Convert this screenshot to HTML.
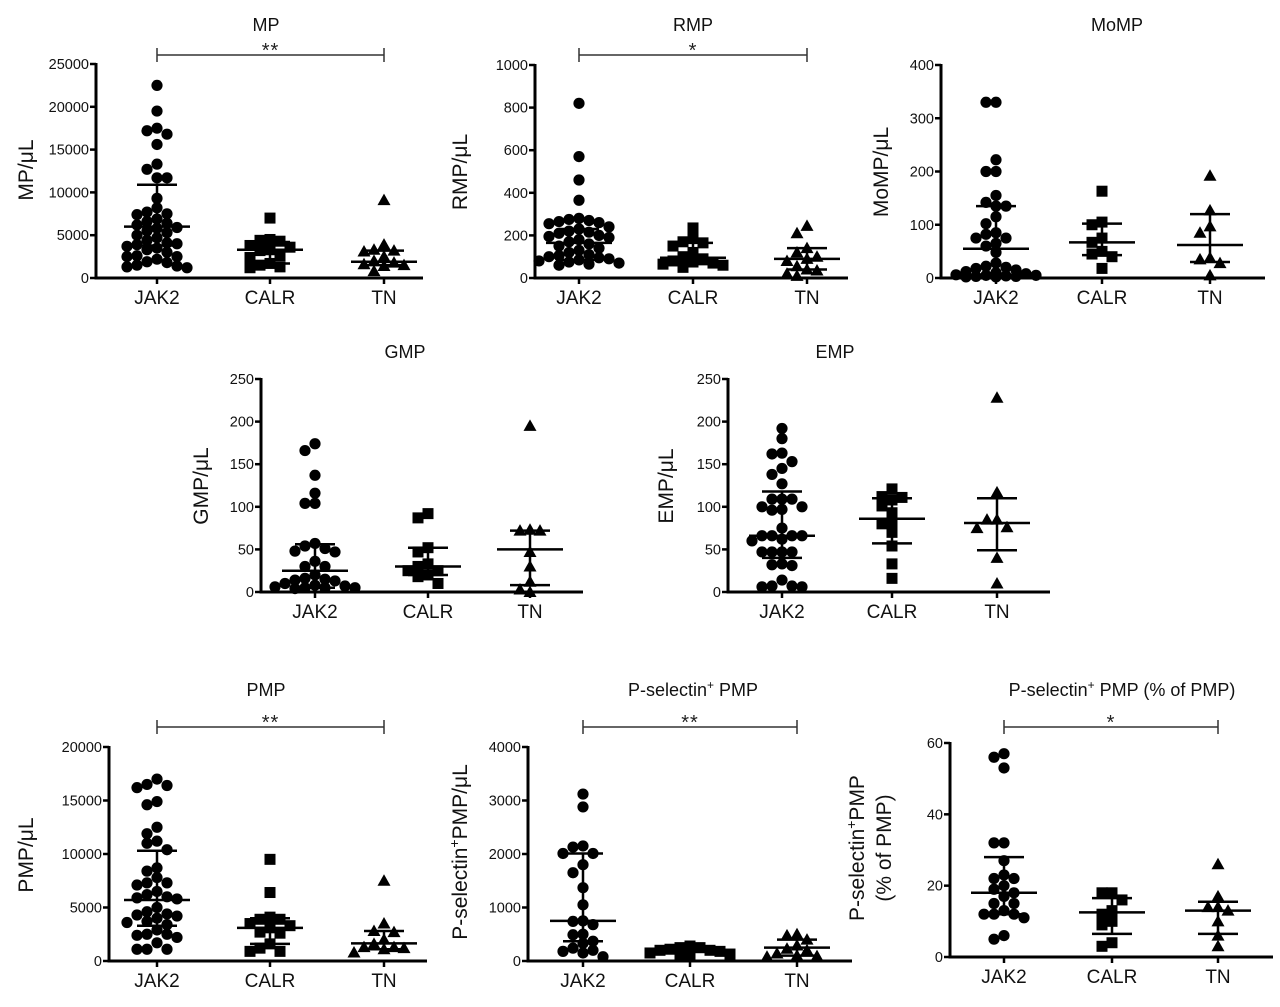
<!DOCTYPE html>
<html><head><meta charset="utf-8">
<style>
html,body{margin:0;padding:0;background:#fff;}
svg{display:block;font-family:"Liberation Sans",Arial,sans-serif;}
</style></head>
<body>
<svg id="fig" width="1280" height="1007" viewBox="0 0 1280 1007" xmlns="http://www.w3.org/2000/svg"></svg>
<script>
const groups = ["JAK2","CALR","TN"];

// MP
const mpTicks = [0,5000,10000,15000,20000,25000];
const mpJak2 = [22500,19500,17500,17200,16800,15600,13300,12700,11700,11700,9300,8200,7700,7500,7400,6900,6600,6400,6200,5900,5800,5500,5300,5000,4700,4400,4100,4000,3900,3700,3500,3300,3000,2600,2500,2500,2200,1900,1800,1500,1400,1300,1200];
const mpCalr = [7000,4500,4400,4300,3800,3600,3300,3200,2600,2400,1700,1500,1300,1200];
const mpTn = [9100,3900,3300,3200,3100,2500,2000,1800,1600,1500,1400,800];
const mpMedian = [6000,3300,1900];
const mpQ1 = [3800,1700,1500];
const mpQ3 = [10900,4200,3200];

// RMP
const rmpTicks = [0,200,400,600,800,1000];
const rmpJak2 = [820,570,460,365,280,275,270,265,260,255,240,230,220,215,210,200,195,190,180,170,160,150,140,130,120,110,105,100,95,90,85,80,75,70,65,60];
const rmpCalr = [235,190,170,165,150,120,100,90,80,75,70,65,60,50];
const rmpTn = [245,210,140,120,100,90,80,55,40,35,20,10];
const rmpMedian = [165,95,90];
const rmpQ1 = [85,65,40];
const rmpQ3 = [230,165,140];

// MoMP
const mompTicks = [0,100,200,300,400];
const mompJak2 = [330,330,222,200,200,155,142,135,135,115,102,85,82,75,75,65,60,48,28,22,20,18,15,12,10,8,6,5,5,4,3,3,2,2];
const mompCalr = [163,105,100,75,67,50,45,40,18];
const mompTn = [192,127,97,85,38,35,28,5];
const mompMedian = [55,67,62];
const mompQ1 = [2,43,30];
const mompQ3 = [135,102,120];

// GMP
const gmpTicks = [0,50,100,150,200,250];
const gmpJak2 = [174,166,137,116,104,104,57,54,51,48,47,36,30,30,20,16,15,14,13,10,8,7,6,5,5,5,4];
const gmpCalr = [92,87,52,47,33,30,25,25,20,18,10];
const gmpTn = [195,73,72,72,47,30,12,3,0];
const gmpMedian = [25,30,50];
const gmpQ1 = [5,20,8];
const gmpQ3 = [56,52,72];

// EMP
const empTicks = [0,50,100,150,200,250];
const empJak2 = [192,180,163,162,153,145,138,127,109,109,109,100,100,97,96,75,66,66,66,66,62,60,47,47,47,47,33,31,32,14,7,6,6,7];
const empCalr = [121,112,111,108,101,93,82,80,70,54,33,16];
const empTn = [228,117,85,85,76,75,40,10];
const empMedian = [66,86,81];
const empQ1 = [40,57,49];
const empQ3 = [118,110,110];

// PMP
const pmpTicks = [0,5000,10000,15000,20000];
const pmpJak2 = [17000,16500,16400,16200,14900,14600,12500,11900,11200,11000,10400,8700,8400,7800,7300,7300,7100,6500,6200,6000,5900,5800,5000,4600,4400,4300,4200,4000,3700,3600,3400,2900,2500,2500,2400,2200,1700,1100,1100,1100];
const pmpCalr = [9500,6400,4100,3900,3900,3500,3300,3100,2700,2600,1600,1200,900,900];
const pmpTn = [7500,3500,2800,2700,2000,1600,1300,1300,1200,1100,800];
const pmpMedian = [5700,3100,1650];
const pmpQ1 = [3300,1600,1100];
const pmpQ3 = [10300,4000,2800];

// P-selectin+ PMP
const pselTicks = [0,1000,2000,3000,4000];
const pselJak2 = [3120,2880,2150,2130,2010,2010,1800,1650,1370,1050,750,740,680,500,490,370,330,240,200,180,150,80];
const pselCalr = [280,250,250,220,200,200,180,150,130,110,80];
const pselTn = [500,480,400,290,230,200,140,100,90,80];
const pselMedian = [750,190,250];
const pselQ1 = [370,170,100];
const pselQ3 = [2010,210,400];

// P-selectin+ PMP (% of PMP)
const pctTicks = [0,20,40,60];
const pctJak2 = [57,56,53,32,32,27,23,22,22,20,19,18,17,15,15,13,12,12,12,11,6,5];
const pctCalr = [18,18,16,13,12,10,9,4,3];
const pctTn = [26,17,14,14,13,10,6,3];
const pctMedian = [18,12.5,13];
const pctQ1 = [12,6.5,6.5];
const pctQ3 = [28,16.5,15.5];

const NS = "http://www.w3.org/2000/svg";
const svg = document.getElementById("fig");
function mk(tag, attrs, parent){
  const e = document.createElementNS(NS, tag);
  for (const k in attrs) e.setAttribute(k, attrs[k]);
  (parent||svg).appendChild(e);
  return e;
}

function panel(p){
  const g = mk("g", {});
  
  
  const ymax = p.ticks[p.ticks.length-1];
  const y = v => p.y0 - (v/ymax)*(p.y0 - p.yTop);
  const t = mk("text", {x:p.titleX, y:p.titleY, "font-size":18, "text-anchor":"middle", fill:"#111"}, g);
  
  
  t.innerHTML = p.title;
  const yl = mk("text", {transform:`translate(${p.ylX},${p.ylY}) rotate(-90)`, "font-size":21, "text-anchor":"middle", fill:"#111"}, g);
  
  
  yl.innerHTML = p.ylabel;
  if (p.ylabel2){
    const yl2 = mk("text", {transform:`translate(${p.ylX+27},${p.ylY}) rotate(-90)`, "font-size":21, "text-anchor":"middle", fill:"#111"}, g);
    
    
    yl2.textContent = p.ylabel2;
  }
  const ya = mk("line", {x1:p.ax, y1:p.yTop-1, x2:p.ax, y2:p.y0+1.5, stroke:"#000","stroke-width":3}, g);
  
  
  const xa = mk("line", {x1:p.ax-1.5, y1:p.y0, x2:p.axEnd, y2:p.y0, stroke:"#000","stroke-width":3}, g);
  
  
  p.ticks.forEach(v=>{
    const yy = y(v);
    const tl = mk("line", {x1:p.ax-6, y1:yy, x2:p.ax, y2:yy, stroke:"#000","stroke-width":2.5}, g);
    
    
    const tx = mk("text", {x:p.ax-7, y:yy+5, "font-size":14.5, "text-anchor":"end", fill:"#111"}, g);
    
    
    tx.textContent = v;
  });
  groups.forEach((c,i)=>{
    const cx = p.cx[i];
    const tk = mk("line", {x1:cx, y1:p.y0, x2:cx, y2:p.y0+6, stroke:"#000","stroke-width":2.5}, g);
    
    
    const cl = mk("text", {x:cx, y:p.y0+26, "font-size":19, "text-anchor":"middle", fill:"#111"}, g);
    
    
    cl.textContent = c;
    const vals = p.data[i].slice().sort((a,b)=>b-a);
    const placed = [];
    const R = 5.6, D = 10;
    vals.forEach(v=>{
      const py = y(v);
      let off = null, best = null, bestD = -1;
      for (let k=0;k<9;k++){
        const cand = k===0?0:(k%2? -Math.ceil(k/2)*D : Math.ceil(k/2)*D);
        const md = placed.reduce((m,q)=>Math.min(m, Math.hypot(q[0]-(cx+cand), q[1]-py)), 1e9);
        if (md >= 1.55*R){ off = cand; break; }
        if (md > bestD){ bestD = md; best = cand; }
      }
      if (off === null) off = best;
      const px = cx+off;
      placed.push([px,py]);
      let m;
      if (i===0) m = mk("circle", {cx:px, cy:py, r:R, fill:"#000"}, g);
      else if (i===1) m = mk("rect", {x:px-5.5, y:py-5.5, width:11, height:11, fill:"#000"}, g);
      else m = mk("polygon", {points:`${px},${py-6.5} ${px-6.5},${py+5} ${px+6.5},${py+5}`, fill:"#000"}, g);
      
      
    });
    const med = mk("line", {x1:cx-33, y1:y(p.med[i]), x2:cx+33, y2:y(p.med[i]), stroke:"#000","stroke-width":2.5}, g);
    
    
    const wl = mk("line", {x1:cx, y1:y(p.q1[i]), x2:cx, y2:y(p.q3[i]), stroke:"#000","stroke-width":2.5}, g);
    
    
    [p.q1[i],p.q3[i]].forEach(q=>{
      const cap = mk("line", {x1:cx-20, y1:y(q), x2:cx+20, y2:y(q), stroke:"#000","stroke-width":2.5}, g);
      
      
    });
  });
  if (p.sig){
    const x1 = p.cx[0], x2 = p.cx[2], by = p.brY;
    const br = mk("path", {d:`M${x1},${by-7} V${by+7} M${x1},${by} H${x2} M${x2},${by-7} V${by+7}`, stroke:"#333","stroke-width":1.5, fill:"none"}, g);
    
    
    const st = mk("text", {x:(x1+x2)/2, y:by+2, "font-size":20, "text-anchor":"middle", fill:"#222", "letter-spacing":"1"}, g);
    
    
    st.textContent = p.sig;
  }
}

panel({id:"mp", title:"MP", titleX:266, titleY:31, ylabel:"MP/μL", ylX:33, ylY:170, ticks:mpTicks,
  ax:96, axEnd:423, y0:278, yTop:64, cx:[157,270,384], data:[mpJak2,mpCalr,mpTn], med:mpMedian, q1:mpQ1, q3:mpQ3, sig:"**", brY:55});
panel({id:"rmp", title:"RMP", titleX:693, titleY:31, ylabel:"RMP/μL", ylX:467, ylY:172, ticks:rmpTicks,
  ax:535, axEnd:848, y0:278, yTop:65, cx:[579,693,807], data:[rmpJak2,rmpCalr,rmpTn], med:rmpMedian, q1:rmpQ1, q3:rmpQ3, sig:"*", brY:55});
panel({id:"momp", title:"MoMP", titleX:1117, titleY:31, ylabel:"MoMP/μL", ylX:888, ylY:172, ticks:mompTicks,
  ax:941, axEnd:1265, y0:278, yTop:65, cx:[996,1102,1210], data:[mompJak2,mompCalr,mompTn], med:mompMedian, q1:mompQ1, q3:mompQ3});
panel({id:"gmp", title:"GMP", titleX:405, titleY:358, ylabel:"GMP/μL", ylX:208, ylY:486, ticks:gmpTicks,
  ax:261, axEnd:583, y0:592, yTop:379, cx:[315,428,530], data:[gmpJak2,gmpCalr,gmpTn], med:gmpMedian, q1:gmpQ1, q3:gmpQ3});
panel({id:"emp", title:"EMP", titleX:835, titleY:358, ylabel:"EMP/μL", ylX:673, ylY:486, ticks:empTicks,
  ax:728, axEnd:1050, y0:592, yTop:379, cx:[782,892,997], data:[empJak2,empCalr,empTn], med:empMedian, q1:empQ1, q3:empQ3});
panel({id:"pmp", title:"PMP", titleX:266, titleY:696, ylabel:"PMP/μL", ylX:33, ylY:855, ticks:pmpTicks,
  ax:109, axEnd:427, y0:961, yTop:747, cx:[157,270,384], data:[pmpJak2,pmpCalr,pmpTn], med:pmpMedian, q1:pmpQ1, q3:pmpQ3, sig:"**", brY:727});
panel({id:"psel", title:"P-selectin<tspan font-size='12' dy='-7'>+</tspan><tspan dy='7'> PMP</tspan>", titleX:693, titleY:696, ylabel:"P-selectin<tspan font-size='14' dy='-8'>+</tspan><tspan dy='8'>PMP/μL</tspan>", ylX:467, ylY:852, ticks:pselTicks,
  ax:528, axEnd:852, y0:961, yTop:747, cx:[583,690,797], data:[pselJak2,pselCalr,pselTn], med:pselMedian, q1:pselQ1, q3:pselQ3, sig:"**", brY:727});
panel({id:"pct", title:"P-selectin<tspan font-size='12' dy='-7'>+</tspan><tspan dy='7'> PMP (% of PMP)</tspan>", titleX:1122, titleY:696, ylabel:"P-selectin<tspan font-size='14' dy='-8'>+</tspan><tspan dy='8'>PMP</tspan>", ylabel2:"(% of PMP)", ylX:864, ylY:848, ticks:pctTicks,
  ax:950, axEnd:1273, y0:957, yTop:743, cx:[1004,1112,1218], data:[pctJak2,pctCalr,pctTn], med:pctMedian, q1:pctQ1, q3:pctQ3, sig:"*", brY:727});
</script>
</body></html>
